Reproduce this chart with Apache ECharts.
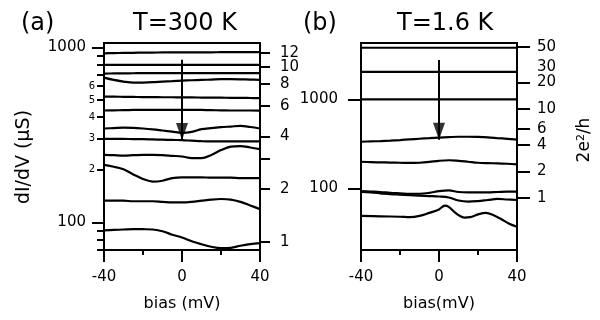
<!DOCTYPE html>
<html><head><meta charset="utf-8">
<script src="https://cdn.jsdelivr.net/npm/echarts@6/dist/echarts.min.js"></script>
<style>html,body{margin:0;padding:0;background:#fff}#c{width:600px;height:320px}</style>
</head><body><div id="c"></div>
<script>
// conductance quantum 2e^2/h in microsiemens
const G0 = 77.48;
// bias grid (mV)
const bias = [-40,-35,-30,-25,-20,-15,-10,-5,0,5,10,15,20,25,30,35,40];
// panel (a) T=300 K, dI/dV in μS
const a1 = [925,928,930,932,934,935,936,937,938,938,938,938,939,939,940,940,940];
const a2 = [795,795,795,795,795,795,795,795,795,795,795,795,795,795,795,795,795];
const a3 = [708,710,711,712,713,713,713,713,713,713,713,713,713,713,713,713,713];
const a4 = [672,652,638,629,630,633,638,642,646,649,652,655,658,658,657,655,652];
const a5 = [523,523,522,521,520,520,519,519,518,518,517,516,516,515,515,514,513];
const a6 = [436,437,438,439,440,440,440,440,440,440,439,438,437,436,436,436,435];
const a7 = [344,346,348,347,344,340,335,330,325,329,341,346,350,353,356,351,344];
const a8 = [300,300,300,299,299,298,297,296,295,293,291,290,290,290,290,290,290];
const a9 = [243,242,241,242,243,243,242,240,238,233,233,243,259,271,273,268,262];
const a10 = [213,208,201,188,177,171,173,179,181,181,181,180,180,180,179,179,179];
const a11 = [133,133,133,132,132,132,131,130,130,131,133,135,136,135,131,125,119];
const a12 = [90,90.5,91,91.5,91.4,91,89,85,82,78,75,72.5,71.2,71.5,73.5,75,76];
// panel (b) T=1.6 K
const b1 = [3800,3800,3800,3800,3800,3800,3800,3800,3800,3800,3800,3800,3800,3800,3800,3800,3800];
const b2 = [2040,2040,2040,2040,2040,2040,2040,2040,2040,2040,2040,2040,2040,2040,2040,2040,2040];
const b3 = [1000,1000,1000,1000,1000,1000,1000,1000,1000,1000,1000,1000,1000,1000,1000,1000,1000];
const b4 = [334,337,340,344,349,355,361,366,371,376,380,380,378,374,367,360,352];
const b5 = [199,197,196,195,194,193,194,198,204,207,204,199,194,192,191,189,186];
const b6 = [93,92,91,89,88,87,87,89,93,95,91,90,90,90,91,92,92];
const b7 = [91,90,88,86,85,84,83,82,81,79,73,71,72,74,76,75,74];
const biasB8 = [-40,-30,-20,-15,-10,-5,0,3,5,8,10,13,16,20,24,28,32,36,40];
const b8 = [49,48.5,48,47.5,49,53,58,64,62,54,50,47,47.5,51,53,50,45,40,37];
// arrows (start value, tip value) at zero bias
const arrowA = [849, 296];
const arrowB = [2770, 352];
// tick labels
const xLabels = [-40, 0, 40];
const xMinor = [-20, 20];
const leftMajorA = [100, 1000];
const leftMinorA = [70, 80, 90, 200, 300, 400, 500, 600, 700, 800, 900];
const leftMinorLabelsA = [200, 300, 400, 500, 600];
const rightTicksA = [1, 2, 3, 4, 6, 8, 10, 12];
const rightLabelsA = [1, 2, 4, 6, 8, 12];
const rightLabelsA2 = [10];
const leftMajorB = [100, 1000];
const rightTicksB = [1, 2, 4, 6, 10, 20, 50];
const rightLabelsB = [1, 2, 4, 6, 10, 20, 50];
const rightLabelsB2 = [30];

const rangeA = [69.5, 1060];
const rangeB = [20.3, 4295];

const FONT = 'DejaVu Sans';
const lbl = {color: '#000', fontFamily: FONT, fontSize: 15};

function xAxes(grid, name) {
  return [
    {type: 'value', gridIndex: grid, min: -40, max: 40, position: 'bottom',
     name: name, nameLocation: 'middle', nameGap: 46,
     nameTextStyle: {color: '#000', fontFamily: FONT, fontSize: 16},
     axisLine: {show: true, onZero: false, lineStyle: {color: '#000', width: 2}},
     axisTick: {show: true, length: 12, customValues: xLabels, lineStyle: {color: '#000', width: 2}},
     axisLabel: Object.assign({customValues: xLabels, margin: 20}, lbl),
     splitLine: {show: false}},
    {type: 'value', gridIndex: grid, min: -40, max: 40, position: 'bottom',
     axisLine: {show: false, onZero: false},
     axisTick: {show: true, length: 5, customValues: xMinor, lineStyle: {color: '#000', width: 2}},
     axisLabel: {show: false}, splitLine: {show: false}}
  ];
}

function logAxis(grid, pos, range, ticks, labels, tickLen, margin, fmt, fontSize) {
  return {type: 'log', gridIndex: grid, position: pos, min: range[0], max: range[1],
    axisLine: {show: true, onZero: false, lineStyle: {color: '#000', width: 2}},
    axisTick: {show: tickLen > 0, length: tickLen, customValues: ticks, lineStyle: {color: '#000', width: 2}},
    axisLabel: Object.assign({customValues: labels, margin: margin, formatter: fmt, hideOverlap: false,
      showMinLabel: true, showMaxLabel: true}, lbl, {fontSize: fontSize || 15, lineHeight: fontSize ? 10 : 12}),
    splitLine: {show: false}, minorTick: {show: false}};
}

const lineStyle = {color: '#000', width: 2.2};
function mkLine(xIdx, yIdx, xs, ys) {
  return {type: 'line', xAxisIndex: xIdx, yAxisIndex: yIdx, data: xs.map((x, i) => [x, ys[i]]),
    showSymbol: false, smooth: 0.35, lineStyle: lineStyle, silent: true, animation: false};
}
function mkArrow(xIdx, yIdx, arr) {
  return [
    {type: 'line', xAxisIndex: xIdx, yAxisIndex: yIdx, data: [[0, arr[0]], [0, arr[1]]],
     showSymbol: false, lineStyle: {color: '#000', width: 2}, animation: false, silent: true},
    {type: 'scatter', xAxisIndex: xIdx, yAxisIndex: yIdx, data: [[0, arr[1]]],
     symbol: 'path://M0,0L12,0L6,17Z', symbolSize: [12, 17], symbolOffset: [0, '-50%'],
     itemStyle: {color: '#000'}, animation: false, silent: true}
  ];
}

const seriesA = [a1,a2,a3,a4,a5,a6,a7,a8,a9,a10,a11,a12].map(s => mkLine(0, 0, bias, s));
const seriesB = [b1,b2,b3,b4,b5,b6,b7].map(s => mkLine(2, 4, bias, s));
seriesB.push(mkLine(2, 4, biasB8, b8));

const fmtInt = v => String(Math.round(v));
const titleStyle = {fontFamily: FONT, fontSize: 24, fontWeight: 'normal', color: '#000'};
const chart = echarts.init(document.getElementById('c'), null, {renderer: 'canvas'});
chart.setOption({
  animation: false,
  backgroundColor: '#fff',
  textStyle: {fontFamily: FONT},
  grid: [
    {left: 104, top: 43, width: 156, height: 207, show: true, borderColor: '#000', borderWidth: 2},
    {left: 361, top: 43, width: 156, height: 207, show: true, borderColor: '#000', borderWidth: 2}
  ],
  title: [
    {text: '(a)', left: 16, top: 7, textStyle: titleStyle},
    {text: 'T=300 K', left: 128, top: 7, textStyle: titleStyle},
    {text: '(b)', left: 298, top: 7, textStyle: titleStyle},
    {text: 'T=1.6 K', left: 392, top: 7, textStyle: titleStyle}
  ],
  xAxis: [].concat(xAxes(0, 'bias (mV)'), xAxes(1, 'bias(mV)')),
  yAxis: [
    logAxis(0, 'left', rangeA, leftMajorA, leftMajorA, 12, 18, fmtInt),
    logAxis(0, 'left', rangeA, leftMinorA, leftMinorLabelsA, 7, 9, v => String(Math.round(v / 100)), 10),
    logAxis(0, 'right', [rangeA[0] / G0, rangeA[1] / G0], rightTicksA, rightLabelsA, 10, 20, fmtInt),
    logAxis(0, 'right', [rangeA[0] / G0, rangeA[1] / G0], rightTicksA, rightLabelsA2, 0, 20, fmtInt),
    logAxis(1, 'left', rangeB, leftMajorB, leftMajorB, 13, 23, fmtInt),
    logAxis(1, 'right', [rangeB[0] / G0, rangeB[1] / G0], rightTicksB, rightLabelsB, 13, 20, fmtInt),
    logAxis(1, 'right', [rangeB[0] / G0, rangeB[1] / G0], rightTicksB, rightLabelsB2, 0, 20, fmtInt)
  ],
  series: [].concat(seriesA, mkArrow(0, 0, arrowA), seriesB, mkArrow(2, 4, arrowB)),
  graphic: [
    {type: 'text', x: 24, y: 157, rotation: Math.PI / 2,
     style: {text: 'dI/dV (\u03bcS)', fontFamily: FONT, fontSize: 19, fill: '#000', align: 'center', verticalAlign: 'middle'}},
    {type: 'text', x: 585, y: 140, rotation: Math.PI / 2,
     style: {text: '2e{s|2}/h', fontFamily: FONT, fontSize: 17, fill: '#000', align: 'center', verticalAlign: 'middle',
       rich: {s: {fontFamily: FONT, fontSize: 11, fill: '#000', verticalAlign: 'top', padding: [0, 0, 8, 0]}}}}
  ]
});
</script>
</body></html>
